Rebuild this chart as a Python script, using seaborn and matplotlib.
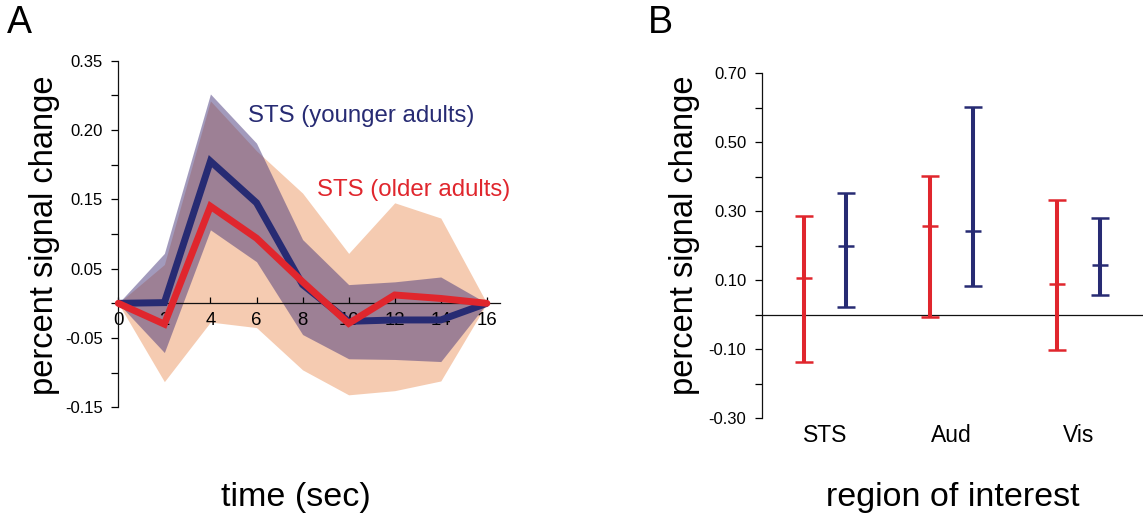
import numpy as np
import matplotlib
matplotlib.use("Agg")
import matplotlib.pyplot as plt
import seaborn as sns

# ---------------- data ----------------
time_sec = [0, 2, 4, 6, 8, 10, 12, 14, 16]
younger_mean = [0.0, 0.001, 0.205, 0.145, 0.027, -0.026, -0.024, -0.024, 0.0]
younger_upper = [0.0, 0.072, 0.302, 0.231, 0.092, 0.027, 0.031, 0.038, 0.0]
younger_lower = [0.0, -0.071, 0.106, 0.060, -0.045, -0.080, -0.081, -0.084, 0.0]
older_mean = [0.0, -0.030, 0.140, 0.094, 0.031, -0.029, 0.012, 0.007, 0.0]
older_upper = [0.0, 0.056, 0.292, 0.220, 0.159, 0.072, 0.145, 0.123, 0.0]
older_lower = [0.0, -0.113, -0.027, -0.035, -0.096, -0.132, -0.126, -0.112, 0.0]

left_yticks = [-0.15, -0.10, -0.05, 0.0, 0.05, 0.10, 0.15, 0.20, 0.25, 0.30, 0.35]
left_yticklabels = ["-0.15", "", "-0.05", "", "0.05", "", "0.15", "", "0.20", "", "0.35"]
left_xticks = [0, 2, 4, 6, 8, 10, 12, 14, 16]

roi_labels = ["STS", "Aud", "Vis"]
roi_older_mean = [0.108, 0.256, 0.089]
roi_older_low = [-0.137, -0.005, -0.101]
roi_older_high = [0.285, 0.401, 0.332]
roi_younger_mean = [0.200, 0.243, 0.145]
roi_younger_low = [0.024, 0.084, 0.056]
roi_younger_high = [0.353, 0.601, 0.282]

right_yticks = [-0.30, -0.20, -0.10, 0.0, 0.10, 0.20, 0.30, 0.40, 0.50, 0.60, 0.70]
right_yticklabels = ["-0.30", "", "-0.10", "", "0.10", "", "0.30", "", "0.50", "", "0.70"]

# ---------------- style ----------------
sns.set_theme(style="ticks")
plt.rcParams["font.family"] = ["Liberation Sans", "DejaVu Sans"]
plt.rcParams["axes.linewidth"] = 0.9
plt.rcParams["text.color"] = "black"
plt.rcParams["xtick.color"] = "black"
plt.rcParams["ytick.color"] = "black"
plt.rcParams["xtick.labelcolor"] = "black"
plt.rcParams["ytick.labelcolor"] = "black"
plt.rcParams["axes.edgecolor"] = "#111111"

navy = "#272B73"
red = "#E0262D"
peach = "#F5CBB1"
band_blue = "#47377B"

W, H = 1143, 520
fig = plt.figure(figsize=(W / 100, H / 100), dpi=100)

# ---------------- panel A ----------------
ax1 = fig.add_axes([118.3 / W, 1 - 407.3 / H, (500 - 118.3) / W, (407.3 - 60.7) / H])
ax1.fill_between(time_sec, older_lower, older_upper, color=peach, lw=0, zorder=0.2)
ax1.fill_between(time_sec, younger_lower, younger_upper, color=band_blue, alpha=0.5,
                 lw=0, zorder=0.3)
sns.lineplot(x=time_sec, y=younger_mean, ax=ax1, color=navy, lw=5, zorder=3,
             clip_on=False, solid_joinstyle="miter", solid_capstyle="butt")
sns.lineplot(x=time_sec, y=older_mean, ax=ax1, color=red, lw=5, zorder=4,
             clip_on=False, solid_joinstyle="miter", solid_capstyle="round")
ax1.set_xlim(0, 16.57)
ax1.set_ylim(-0.15, 0.35)
ax1.spines["top"].set_visible(False)
ax1.spines["right"].set_visible(False)
ax1.spines["bottom"].set_position(("data", 0))
ax1.set_yticks(left_yticks)
ax1.set_yticklabels(left_yticklabels)
ax1.set_xticks(left_xticks)
ax1.set_xticklabels([str(t) for t in left_xticks])
ax1.tick_params(axis="y", direction="out", length=5, width=0.9, pad=6,
                labelsize=12)
ax1.tick_params(axis="x", direction="in", length=4, width=0.9, pad=6.5,
                labelsize=13.4)
ax1.set_xlabel("")
ax1.set_ylabel("")
ax1.patch.set_alpha(0)

fig.text(248 / W, 1 - 121.7 / H, "STS (younger adults)", color=navy, fontsize=17.3,
         ha="left", va="baseline")
fig.text(317 / W, 1 - 196 / H, "STS (older adults)", color=red, fontsize=17.3,
         ha="left", va="baseline")

# ---------------- panel B ----------------
ax2 = fig.add_axes([761.7 / W, 1 - 418.3 / H, (W - 761.7) / W, (418.3 - 73.3) / H])
x_pos = np.arange(len(roi_labels))
off = 0.168
for means, lows, highs, col, sgn in [
    (roi_older_mean, roi_older_low, roi_older_high, red, -1),
    (roi_younger_mean, roi_younger_low, roi_younger_high, navy, 1),
]:
    m = np.array(means)
    yerr = np.vstack([m - np.array(lows), np.array(highs) - m])
    ax2.errorbar(x_pos + sgn * off, m, yerr=yerr, fmt="_", color=col, ecolor=col,
                 markersize=12, markeredgewidth=1.8, elinewidth=2.9,
                 capsize=6.4, capthick=3.4, zorder=3)
ax2.axhline(0, color="#111111", lw=0.9, zorder=1)
ax2.set_xlim(-0.5, 2.51)
ax2.set_ylim(-0.30, 0.70)
ax2.spines["top"].set_visible(False)
ax2.spines["right"].set_visible(False)
ax2.spines["bottom"].set_visible(False)
ax2.set_yticks(right_yticks)
ax2.set_yticklabels(right_yticklabels)
ax2.set_xticks(x_pos)
ax2.set_xticklabels(roi_labels)
ax2.tick_params(axis="y", direction="out", length=5, width=0.9, pad=6,
                labelsize=12)
ax2.tick_params(axis="x", length=0, pad=4, labelsize=16.5)
ax2.patch.set_alpha(0)

# ---------------- labels ----------------
fig.text(45 / W, 1 - 235 / H, "percent signal change", rotation=90, fontsize=23.5,
         ha="center", va="center")
fig.text(685 / W, 1 - 235 / H, "percent signal change", rotation=90, fontsize=23.5,
         ha="center", va="center")
fig.text(296 / W, 1 - 506 / H, "time (sec)", fontsize=24.5, ha="center", va="baseline")
fig.text(953 / W, 1 - 506 / H, "region of interest", fontsize=24.5, ha="center",
         va="baseline")
fig.text(7 / W, 1 - 32.7 / H, "A", fontsize=27, ha="left", va="baseline")
fig.text(648 / W, 1 - 32.7 / H, "B", fontsize=27, ha="left", va="baseline")

fig.savefig("out.png", dpi=100)
